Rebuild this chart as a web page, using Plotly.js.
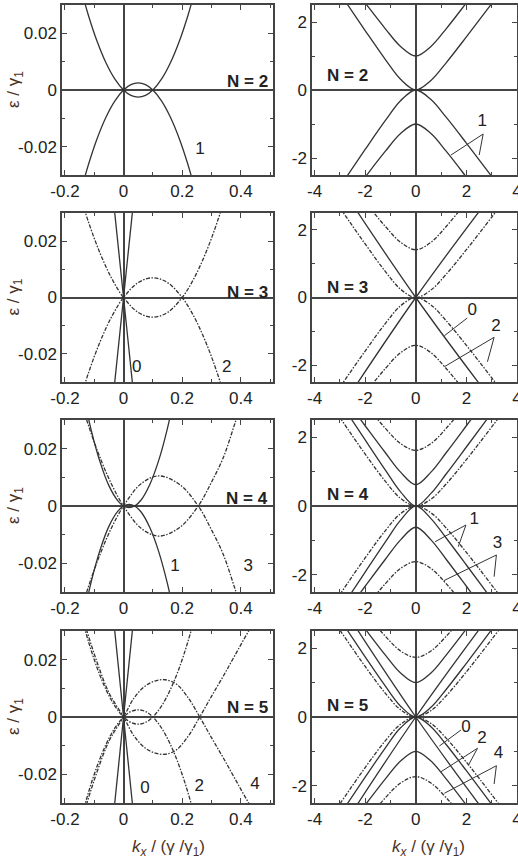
<!DOCTYPE html>
<html>
<head>
<meta charset="utf-8">
<script src="https://cdn.plot.ly/plotly-3.0.1.min.js"></script>
<style>html,body{margin:0;padding:0;background:#fff;}#chart{width:518px;height:859px;}</style>
</head>
<body>
<div id="chart"></div>
<script>
// ---------- tick labels ----------
const leftXTicks = [-0.2, 0, 0.2, 0.4];
const leftXText = ["-0.2", "0", "0.2", "0.4"];
const leftYTicks = [-0.02, 0, 0.02];
const leftYText = ["-0.02", "0", "0.02"];
const rightXTicks = [-4, -2, 0, 2, 4];
const rightXText = ["-4", "-2", "0", "2", "4"];
const rightYTicks = [-2, 0, 2];
const rightYText = ["-2", "0", "2"];
const panelNames = ["N = 2", "N = 3", "N = 4", "N = 5"];

// ---------- left panels (small k) ----------
// N = 2
const kL2 = [-0.15, -0.12, -0.09, -0.06, -0.03, 0, 0.025, 0.05, 0.075, 0.1, 0.13, 0.16, 0.19, 0.22, 0.25];
const eL2a = [0.0375, 0.0264, 0.0171, 0.0096, 0.0039, 0, -0.0019, -0.0025, -0.0019, 0, 0.0039, 0.0096, 0.0171, 0.0264, 0.0375];
const eL2b = [-0.0375, -0.0264, -0.0171, -0.0096, -0.0039, 0, 0.0019, 0.0025, 0.0019, 0, -0.0039, -0.0096, -0.0171, -0.0264, -0.0375];
// N = 3
const kMonoL = [-0.05, 0.05];
const eMonoLa = [-0.05, 0.05];
const eMonoLb = [0.05, -0.05];
const kL3 = [-0.16, -0.12, -0.08, -0.04, 0, 0.05, 0.1, 0.15, 0.2, 0.24, 0.28, 0.32, 0.36];
const eL3a = [0.0403, 0.0269, 0.0157, 0.0067, 0, -0.0053, -0.007, -0.0053, 0, 0.0067, 0.0157, 0.0269, 0.0403];
const eL3b = [-0.0403, -0.0269, -0.0157, -0.0067, 0, 0.0053, 0.007, 0.0053, 0, -0.0067, -0.0157, -0.0269, -0.0403];
// N = 4
const kL4s = [-0.14, -0.11, -0.08, -0.05, -0.02, 0, 0.019, 0.038, 0.06, 0.09, 0.12, 0.15, 0.18];
const eL4sa = [0.0403, 0.0263, 0.0153, 0.0071, 0.0019, 0, -0.0006, 0, 0.0021, 0.0076, 0.0159, 0.0272, 0.0414];
const eL4sb = [-0.0403, -0.0263, -0.0153, -0.0071, -0.0019, 0, 0.0006, 0, -0.0021, -0.0076, -0.0159, -0.0272, -0.0414];
const kL4d = [-0.16, -0.12, -0.08, -0.04, 0, 0.06, 0.12, 0.19, 0.255, 0.3, 0.34, 0.38, 0.42];
const eL4da = [0.0415, 0.0282, 0.0168, 0.0074, 0, -0.0078, -0.0105, -0.0076, 0, 0.0083, 0.0168, 0.0288, 0.0415];
const eL4db = [-0.0415, -0.0282, -0.0168, -0.0074, 0, 0.0078, 0.0105, 0.0076, 0, -0.0083, -0.0168, -0.0288, -0.0415];
// N = 5
const kL5b = [-0.15, -0.12, -0.09, -0.06, -0.03, 0, 0.025, 0.05, 0.075, 0.1, 0.13, 0.16, 0.19, 0.22, 0.25];
const eL5ba = [0.0375, 0.0264, 0.0171, 0.0096, 0.0039, 0, -0.0019, -0.0025, -0.0019, 0, 0.0039, 0.0096, 0.0171, 0.0264, 0.0375];
const eL5bb = [-0.0375, -0.0264, -0.0171, -0.0096, -0.0039, 0, 0.0019, 0.0025, 0.0019, 0, -0.0039, -0.0096, -0.0171, -0.0264, -0.0375];
const kL5c = [-0.16, -0.125, -0.09, -0.05, 0, 0.035, 0.07, 0.105, 0.142, 0.18, 0.22, 0.26, 0.30, 0.34, 0.38, 0.427, 0.47];
const eL5ca = [0.042, 0.03, 0.019, 0.0085, 0, -0.0065, -0.0105, -0.0125, -0.013, -0.0115, -0.0068, 0, 0.0072, 0.0142, 0.0215, 0.03, 0.037];
const eL5cb = [-0.042, -0.03, -0.019, -0.0085, 0, 0.0065, 0.0105, 0.0125, 0.013, 0.0115, 0.0068, 0, -0.0072, -0.0142, -0.0215, -0.03, -0.037];

// ---------- right panels (large k) ----------
const kR = [-4.5, -3, -2, -1.2, -0.6, 0, 0.6, 1.2, 2, 3, 4.5];
const kMonoR = [-4.5, 0, 4.5];
const eMonoRa = [-5.04, 0, 4.5];
const eMonoRb = [5.04, 0, -4.5];
// N = 2 (also N = 5, family 2)
const eR2loU = [4.51, 2.846, 1.749, 0.896, 0.315, 0, 0.281, 0.8, 1.562, 2.541, 4.028];
const eR2loD = [-4.51, -2.846, -1.749, -0.896, -0.315, 0, -0.281, -0.8, -1.562, -2.541, -4.028];
const eR2hiU = [5.028, 3.541, 2.562, 1.8, 1.281, 1, 1.281, 1.8, 2.562, 3.541, 5.028];
const eR2hiD = [-5.028, -3.541, -2.562, -1.8, -1.281, -1, -1.281, -1.8, -2.562, -3.541, -5.028];
// N = 3
const eR3loU = [4.31, 2.66, 1.584, 0.768, 0.246, 0, 0.22, 0.686, 1.414, 2.375, 3.848];
const eR3loD = [-4.31, -2.66, -1.584, -0.768, -0.246, 0, -0.22, -0.686, -1.414, -2.375, -3.848];
const eR3hiU = [5.262, 3.789, 2.828, 2.1, 1.634, 1.414, 1.634, 2.1, 2.828, 3.789, 5.262];
const eR3hiD = [-5.262, -3.789, -2.828, -2.1, -1.634, -1.414, -1.634, -2.1, -2.828, -3.789, -5.262];
// N = 4
const eR4sloU = [4.706, 3.032, 1.921, 1.042, 0.41, 0, 0.366, 0.93, 1.715, 2.707, 4.202];
const eR4sloD = [-4.706, -3.032, -1.921, -1.042, -0.41, 0, -0.366, -0.93, -1.715, -2.707, -4.202];
const eR4shiU = [4.82, 3.325, 2.333, 1.548, 0.984, 0.618, 0.984, 1.548, 2.333, 3.325, 4.82];
const eR4shiD = [-4.82, -3.325, -2.333, -1.548, -0.984, -0.618, -0.984, -1.548, -2.333, -3.325, -4.82];
const eR4dloU = [4.215, 2.574, 1.51, 0.715, 0.222, 0, 0.198, 0.638, 1.348, 2.298, 3.763];
const eR4dloD = [-4.215, -2.574, -1.51, -0.715, -0.222, 0, -0.198, -0.638, -1.348, -2.298, -3.763];
const eR4dhiU = [5.381, 3.916, 2.966, 2.256, 1.816, 1.618, 1.816, 2.256, 2.966, 3.916, 5.381];
const eR4dhiD = [-5.381, -3.916, -2.966, -2.256, -1.816, -1.618, -1.816, -2.256, -2.966, -3.916, -5.381];
// N = 5, family 4
const eR5loU = [4.163, 2.527, 1.471, 0.688, 0.211, 0, 0.188, 0.614, 1.313, 2.256, 3.717];
const eR5loD = [-4.163, -2.527, -1.471, -0.688, -0.211, 0, -0.188, -0.614, -1.313, -2.256, -3.717];
const eR5hiU = [5.449, 3.988, 3.045, 2.346, 1.92, 1.732, 1.92, 2.346, 3.045, 3.988, 5.449];
const eR5hiD = [-5.449, -3.988, -3.045, -2.346, -1.92, -1.732, -1.92, -2.346, -3.045, -3.988, -5.449];

// ---------- curve labels and pointer lines ----------
// [row, col, texts, xs, ys]
const curveLabels = [
  [1, 1, ["1"], [0.261], [-0.0212]],
  [2, 1, ["0", "2"], [0.045, 0.352], [-0.0251, -0.0248]],
  [3, 1, ["1", "3"], [0.1756, 0.4257], [-0.0212, -0.0212]],
  [4, 1, ["0", "2", "4"], [0.0732, 0.2585, 0.4485], [-0.0249, -0.0243, -0.0237]],
  [1, 2, ["1"], [2.624], [-0.941]],
  [2, 2, ["0", "2"], [2.231, 3.174], [-0.40, -0.864]],
  [3, 2, ["1", "3"], [2.309, 3.225], [-0.387, -1.084]],
  [4, 2, ["0", "2", "4"], [1.983, 2.612, 3.265], [-0.299, -0.619, -1.055]]
];
// pointer polylines: [row, xs, ys]
const pointers = [
  [1, [1.393, 2.663, 2.506], [-1.912, -1.294, -1.912]],
  [2, [1.130, 2.034], [-1.131, -0.607]],
  [2, [1.130, 3.096, 2.832], [-2.048, -1.178, -1.900]],
  [3, [0.764, 1.983, 1.680], [-1.038, -0.552, -1.183]],
  [3, [1.102, 3.186, 3.096], [-2.172, -1.424, -2.055]],
  [4, [0.933, 1.786], [-0.843, -0.378]],
  [4, [1.0, 2.439, 2.085], [-1.590, -0.910, -1.395]],
  [4, [1.130, 3.186, 3.096], [-2.218, -1.416, -1.948]]
];

// ---------- build ----------
const LINE = '#333333';
const DASHDOT = '4px,1.5px,1.5px,1.5px';
const FONT = 'Liberation Sans, Arial, sans-serif';
const traces = [];
function ax(row, col) { return (row - 1) * 2 + col; }
function sfx(i) { return i === 1 ? '' : String(i); }
function add(row, col, x, y, dash, w) {
  const i = ax(row, col);
  traces.push({
    type: 'scatter', mode: 'lines', x: x, y: y,
    xaxis: 'x' + sfx(i), yaxis: 'y' + sfx(i),
    line: {color: LINE, width: w || 1.3, dash: dash || 'solid', shape: 'spline', smoothing: 1},
    hoverinfo: 'skip'
  });
}
// left
add(1, 1, kL2, eL2a); add(1, 1, kL2, eL2b);
add(2, 1, kMonoL, eMonoLa); add(2, 1, kMonoL, eMonoLb);
add(2, 1, kL3, eL3a, DASHDOT); add(2, 1, kL3, eL3b, DASHDOT);
add(3, 1, kL4s, eL4sa); add(3, 1, kL4s, eL4sb);
add(3, 1, kL4d, eL4da, DASHDOT); add(3, 1, kL4d, eL4db, DASHDOT);
add(4, 1, kMonoL, eMonoLa); add(4, 1, kMonoL, eMonoLb);
add(4, 1, kL5b, eL5ba, DASHDOT); add(4, 1, kL5b, eL5bb, DASHDOT);
add(4, 1, kL5c, eL5ca, DASHDOT); add(4, 1, kL5c, eL5cb, DASHDOT);
// right
[eR2loU, eR2loD, eR2hiU, eR2hiD].forEach(e => add(1, 2, kR, e));
add(2, 2, kMonoR, eMonoRa); add(2, 2, kMonoR, eMonoRb);
[eR3loU, eR3loD, eR3hiU, eR3hiD].forEach(e => add(2, 2, kR, e, DASHDOT));
[eR4sloU, eR4sloD, eR4shiU, eR4shiD].forEach(e => add(3, 2, kR, e));
[eR4dloU, eR4dloD, eR4dhiU, eR4dhiD].forEach(e => add(3, 2, kR, e, DASHDOT));
add(4, 2, kMonoR, eMonoRa); add(4, 2, kMonoR, eMonoRb);
[eR2loU, eR2loD, eR2hiU, eR2hiD].forEach(e => add(4, 2, kR, e));
[eR5loU, eR5loD, eR5hiU, eR5hiD].forEach(e => add(4, 2, kR, e, DASHDOT));
// pointers
pointers.forEach(p => {
  const i = ax(p[0], 2);
  traces.push({type: 'scatter', mode: 'lines', x: p[1], y: p[2],
    xaxis: 'x' + sfx(i), yaxis: 'y' + sfx(i), line: {color: LINE, width: 1}, hoverinfo: 'skip'});
});
// curve family labels as text traces
curveLabels.forEach(l => {
  const i = ax(l[0], l[1]);
  traces.push({type: 'scatter', mode: 'text', x: l[3], y: l[4], text: l[2],
    textposition: 'middle center', cliponaxis: false,
    textfont: {family: FONT, size: 17, color: '#222'},
    xaxis: 'x' + sfx(i), yaxis: 'y' + sfx(i), hoverinfo: 'skip'});
});

const W = 518, H = 859;
const rowsPx = [[5, 175], [213, 382], [420, 592], [631, 803]];
const colsPx = [[62, 273], [312, 517]];
const FRAME = '#444444';
const tickFont = {family: FONT, size: 17, color: '#222'};
const layout = {
  width: W, height: H, margin: {l: 0, r: 0, t: 0, b: 0},
  paper_bgcolor: '#fff', plot_bgcolor: '#fff', showlegend: false,
  annotations: []
};
for (let r = 1; r <= 4; r++) {
  for (let c = 1; c <= 2; c++) {
    const i = ax(r, c);
    const s = sfx(i);
    const left = c === 1;
    const common = {
      showgrid: false, zeroline: true, zerolinecolor: FRAME, zerolinewidth: 1.5,
      showline: true, linecolor: FRAME, linewidth: 1.5, mirror: 'allticks',
      ticks: 'inside', ticklen: 5, tickwidth: 1, tickcolor: FRAME,
      tickfont: tickFont, tickmode: 'array', fixedrange: true,
      ticklabeloverflow: 'allow'
    };
    layout['xaxis' + s] = Object.assign({}, common, {
      domain: [colsPx[c - 1][0] / W, colsPx[c - 1][1] / W],
      anchor: 'y' + s,
      range: left ? [-0.21, 0.51] : [-4.1, 4.0],
      tickvals: left ? leftXTicks : rightXTicks,
      ticktext: left ? leftXText : rightXText,
      minor: {dtick: left ? 0.1 : 1, tick0: 0, ticks: 'inside', ticklen: 3, tickwidth: 1, tickcolor: FRAME}
    });
    layout['yaxis' + s] = Object.assign({}, common, {
      domain: [1 - rowsPx[r - 1][1] / H, 1 - rowsPx[r - 1][0] / H],
      anchor: 'x' + s,
      range: left ? [-0.03, 0.03] : [-2.5, 2.5],
      tickvals: left ? leftYTicks : rightYTicks,
      ticktext: left ? leftYText : rightYText,
      minor: {dtick: left ? 0.01 : 1, tick0: 0, ticks: 'inside', ticklen: 3, tickwidth: 1, tickcolor: FRAME}
    });
  }
}
// N labels and y titles
const nLabelY = [[0.549, 0.588], [0.53, 0.562], [0.542, 0.565], [0.558, 0.566]];
for (let r = 1; r <= 4; r++) {
  const sL = sfx(ax(r, 1)), sR = sfx(ax(r, 2));
  layout.annotations.push({
    text: '<b>' + panelNames[r - 1] + '</b>', xref: 'x' + sL + ' domain', yref: 'y' + sL + ' domain',
    x: 0.986, y: nLabelY[r - 1][0], xanchor: 'right', yanchor: 'middle', showarrow: false,
    font: {family: FONT, size: 17, color: '#222'}
  });
  layout.annotations.push({
    text: '<b>' + panelNames[r - 1] + '</b>', xref: 'x' + sR + ' domain', yref: 'y' + sR + ' domain',
    x: 0.063, y: nLabelY[r - 1][1], xanchor: 'left', yanchor: 'middle', showarrow: false,
    font: {family: FONT, size: 17, color: '#222'}
  });
  layout.annotations.push({
    text: 'ε / γ<sub>1</sub>', xref: 'paper', yref: 'paper',
    x: 15 / W, y: 1 - (rowsPx[r - 1][0] + rowsPx[r - 1][1]) / 2 / H,
    xanchor: 'center', yanchor: 'middle', textangle: -90, showarrow: false,
    font: {family: FONT, size: 17, color: '#4a3222'}
  });
}
// x titles
[168, 428].forEach(px => {
  layout.annotations.push({
    text: '<i>k<sub>x</sub></i> / (γ /γ<sub>1</sub>)', xref: 'paper', yref: 'paper',
    x: px / W, y: 1 - 848 / H, xanchor: 'center', yanchor: 'middle', showarrow: false,
    font: {family: FONT, size: 17, color: '#4a3222'}
  });
});

Plotly.newPlot('chart', traces, layout, {displayModeBar: false});
</script>
</body>
</html>
